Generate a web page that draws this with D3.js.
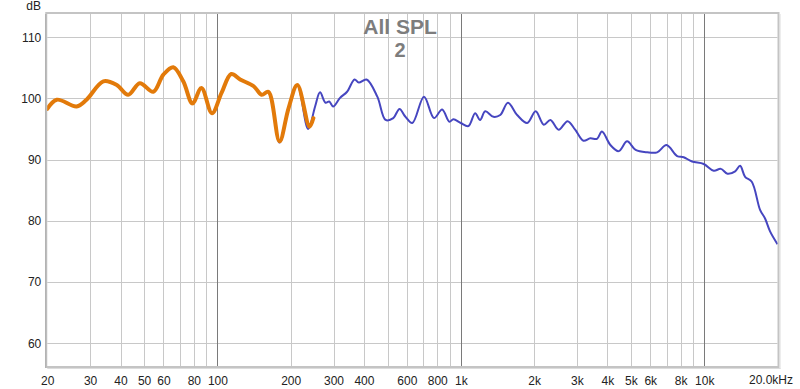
<!DOCTYPE html>
<html>
<head>
<meta charset="utf-8">
<script src="https://cdn.jsdelivr.net/npm/d3@7"></script>
<style>
  body { margin: 0; background: #fff; }
  svg { display: block; font-family: "Liberation Sans", Arial, sans-serif; }
</style>
</head>
<body>
<div id="chart"></div>
<script>
var freqOrange = [20, 21.9, 26.4, 29, 34, 38.6, 43, 48, 54.5, 60, 65.9, 72.4, 79, 86, 95, 104, 114, 124, 141, 152, 162, 180, 196, 213, 239, 248];
var splOrange  = [98.3, 99.8, 98.7, 99.8, 102.8, 102.2, 100.6, 102.5, 101.1, 103.9, 105.1, 102.8, 99.2, 101.7, 97.6, 100.9, 104.0, 103.1, 102.0, 100.6, 101.1, 93.0, 98.4, 102.2, 95.4, 96.8];

var freqBlue = [20, 21.9, 26.4, 29, 34, 38.6, 43, 48, 54.5, 60, 65.9, 72.4, 79, 86, 95, 104, 114, 124, 141, 152, 162, 180, 196, 213, 236,
  252, 264, 278, 288, 299, 319, 341, 366, 381, 410, 454, 491, 528, 560, 590, 632, 706, 776, 838, 897, 932, 1000, 1075, 1145, 1200,
  1260, 1362, 1452, 1562, 1704, 1874, 2030, 2192, 2334, 2524, 2745, 2950, 3190, 3404, 3626, 3800, 4116, 4452, 4822, 5226, 5834,
  6408, 7000, 7740, 8236, 8910, 9956, 10940, 11700, 12460, 13400, 14040, 14720, 15680, 16960, 17780, 18640, 20000];
var splBlue = [98.3, 99.8, 98.7, 99.8, 102.8, 102.2, 100.6, 102.5, 101.1, 103.9, 105.1, 102.8, 99.2, 101.7, 97.6, 100.9, 104.0, 103.1, 102.0, 100.6, 101.1, 92.8, 98.4, 102.2, 95.0,
  98.7, 101.0, 99.3, 99.5, 98.7, 100.1, 101.1, 103.1, 102.6, 103.1, 100.3, 96.5, 96.8, 98.3, 97.1, 96.0, 100.3, 96.8, 98.2, 96.2, 96.6, 96.0, 95.5, 97.6, 96.5,
  97.9, 97.0, 97.3, 99.3, 97.3, 96.0, 97.9, 95.7, 96.5, 94.9, 96.3, 94.9, 93.1, 93.5, 93.4, 94.6, 92.4, 91.4, 93.0, 91.6, 91.2,
  91.2, 92.4, 90.6, 90.4, 89.7, 89.3, 88.2, 88.5, 87.7, 88.1, 89.0, 87.2, 86.4, 81.8, 80.4, 78.3, 76.2];

var xTickValues = [20, 30, 40, 50, 60, 80, 100, 200, 300, 400, 600, 800, 1000, 2000, 3000, 4000, 5000, 6000, 8000, 10000];
var yTickValues = [60, 70, 80, 90, 100, 110];

var svgWidth = 800;
var svgHeight = 389;
var plot = { left: 47.25, right: 777.5, top: 14, bottom: 366 };

var svg = d3.select("#chart").append("svg")
  .attr("width", svgWidth)
  .attr("height", svgHeight);

var xScale = d3.scaleLog().domain([20, 20000]).range([plot.left, plot.right]);
var yScale = d3.scaleLinear().domain([56.3, 113.8]).range([plot.bottom, plot.top]);

// vertical grid: every 1..9 of each decade, decades darker
var gridFreqs = [];
[10, 100, 1000, 10000].forEach(function(dec) {
  for (var i = 1; i < 10; i++) {
    var f = dec * i;
    if (f > 20 && f < 20000) gridFreqs.push(f);
  }
});

var grid = svg.append("g");
grid.selectAll("line.h")
  .data(yTickValues)
  .enter().append("line")
  .attr("x1", plot.left).attr("x2", plot.right)
  .attr("y1", d => Math.round(yScale(d)) + 0.5)
  .attr("y2", d => Math.round(yScale(d)) + 0.5)
  .attr("stroke", "#c8c8c8");

grid.selectAll("line.v")
  .data(gridFreqs)
  .enter().append("line")
  .attr("x1", d => Math.round(xScale(d)) + 0.5)
  .attr("x2", d => Math.round(xScale(d)) + 0.5)
  .attr("y1", plot.top).attr("y2", plot.bottom)
  .attr("stroke", d => (d === 100 || d === 1000 || d === 10000) ? "#7a7a7a" : "#c8c8c8");

// title
svg.append("text")
  .attr("x", 400).attr("y", 34)
  .attr("text-anchor", "middle")
  .attr("font-size", "21px").attr("font-weight", "bold")
  .attr("fill", "#7d7d7d")
  .text("All SPL");
svg.append("text")
  .attr("x", 400).attr("y", 57)
  .attr("text-anchor", "middle")
  .attr("font-size", "20px").attr("font-weight", "bold")
  .attr("fill", "#7d7d7d")
  .text("2");

// curves
var line = d3.line()
  .x(d => xScale(d[0]))
  .y(d => yScale(d[1]))
  .curve(d3.curveCatmullRom.alpha(0.5));

svg.append("path")
  .datum(d3.zip(freqBlue, splBlue))
  .attr("d", line)
  .attr("fill", "none")
  .attr("stroke", "#4646c0")
  .attr("stroke-width", 2);

svg.append("path")
  .datum(d3.zip(freqOrange, splOrange))
  .attr("d", line)
  .attr("fill", "none")
  .attr("stroke", "#e27a0a")
  .attr("stroke-width", 4)
  .attr("stroke-linecap", "round")
  .attr("stroke-linejoin", "round");

// frame
svg.append("rect")
  .attr("x", plot.left - 1).attr("y", plot.top - 1)
  .attr("width", plot.right - plot.left + 2)
  .attr("height", plot.bottom - plot.top + 2)
  .attr("fill", "none")
  .attr("stroke", "#c4c4c4")
  .attr("stroke-width", 2);
svg.append("line")
  .attr("x1", plot.left - 1.5).attr("x2", plot.left - 1.5)
  .attr("y1", plot.top).attr("y2", plot.bottom + 2)
  .attr("stroke", "#a8a8a8").attr("stroke-width", 1);
svg.append("line")
  .attr("x1", plot.left).attr("x2", plot.right + 3)
  .attr("y1", plot.bottom + 2.5).attr("y2", plot.bottom + 2.5)
  .attr("stroke", "#dcdcdc").attr("stroke-width", 1);
svg.append("line")
  .attr("x1", plot.right + 2.5).attr("x2", plot.right + 2.5)
  .attr("y1", plot.top).attr("y2", plot.bottom + 3)
  .attr("stroke", "#dcdcdc").attr("stroke-width", 1);

// axes
var fmtFreq = function(d) { return d >= 1000 ? (d / 1000) + "k" : d; };

var xAxis = svg.append("g")
  .attr("transform", "translate(0," + (plot.bottom + 4) + ")")
  .call(d3.axisBottom(xScale).tickValues(xTickValues).tickFormat(fmtFreq).tickSize(0).tickPadding(6));
xAxis.select(".domain").remove();
xAxis.selectAll("text").attr("font-size", "12px").attr("fill", "#222").attr("font-family", null);

svg.append("text")
  .attr("x", 793).attr("y", 384)
  .attr("text-anchor", "end")
  .attr("font-size", "12px").attr("fill", "#222")
  .text("20.0kHz");

var yAxis = svg.append("g")
  .attr("transform", "translate(" + (plot.left - 5) + ",0)")
  .call(d3.axisLeft(yScale).tickValues(yTickValues).tickSize(0).tickPadding(1));
yAxis.select(".domain").remove();
yAxis.selectAll("text").attr("font-size", "12px").attr("fill", "#222").attr("font-family", null);

svg.append("text")
  .attr("x", 41).attr("y", 10)
  .attr("text-anchor", "end")
  .attr("font-size", "12px").attr("fill", "#222")
  .text("dB");
</script>
</body>
</html>
